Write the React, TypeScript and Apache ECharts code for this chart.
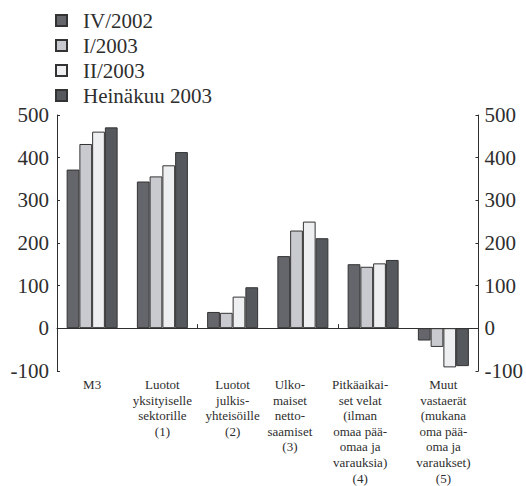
import React, { useEffect, useRef } from "react";
import * as echarts from "echarts";

// Categories (axis labels with their line breaks)
const categories = [
  "M3",
  "Luotot\nyksityiselle\nsektorille\n(1)",
  "Luotot\njulkis-\nyhteisöille\n(2)",
  "Ulko-\nmaiset\nnetto-\nsaamiset\n(3)",
  "Pitkäaikai-\nset velat\n(ilman\nomaa pää-\nomaa ja\nvarauksia)\n(4)",
  "Muut\nvastaerät\n(mukana\noma pää-\noma ja\nvaraukset)\n(5)",
];

// Series names and values
const seriesNames = ["IV/2002", "I/2003", "II/2003", "Heinäkuu 2003"];
const iv2002 = [372, 344, 38, 169, 150, -29];
const i2003 = [432, 356, 36, 229, 144, -44];
const ii2003 = [461, 382, 74, 250, 152, -92];
const heinakuu2003 = [471, 413, 96, 211, 160, -89];
const seriesValues = [iv2002, i2003, ii2003, heinakuu2003];
const seriesColors = ["#64666b", "#c9cacf", "#eeeff1", "#55585c"];

// Value axis ticks
const yMin = -100;
const yMax = 500;
const yStep = 100;

const FONT = "'Liberation Serif', 'Times New Roman', serif";
const INK = "#2e2e2e";
const CAT_LINE = 15.6;

export default function App() {
  const ref = useRef<HTMLDivElement>(null);

  useEffect(() => {
    if (!ref.current) return;
    const chart = echarts.init(ref.current, undefined, { renderer: "svg" });

    const valueAxis = (position: "left" | "right") => ({
      type: "value",
      position,
      min: yMin,
      max: yMax,
      interval: yStep,
      splitLine: { show: false },
      axisLine: { show: true, lineStyle: { color: INK, width: 1 } },
      axisTick: { show: true, inside: true, length: 3, lineStyle: { color: INK } },
      axisLabel: {
        color: INK,
        fontFamily: FONT,
        fontSize: 21,
        margin: position === "left" ? 8 : 6,
      },
    });

    chart.setOption({
      animation: false,
      backgroundColor: "#ffffff",
      textStyle: { fontFamily: FONT },
      legend: {
        orient: "vertical",
        left: 55,
        top: 10,
        padding: 0,
        itemWidth: 11,
        itemHeight: 11,
        itemGap: 4,
        icon: "rect",
        textStyle: {
          color: INK,
          fontFamily: FONT,
          fontSize: 21,
          lineHeight: 21,
          padding: [0, 0, 0, 11],
        },
        data: seriesNames,
      },
      grid: { left: 57, right: 45, top: 115, bottom: 115 },
      xAxis: [
        {
          type: "category",
          data: categories,
          axisLine: { show: true, onZero: true, lineStyle: { color: INK, width: 1 } },
          axisTick: { show: true, inside: true, length: 4, lineStyle: { color: INK } },
          axisLabel: { show: false },
        },
        {
          type: "category",
          position: "bottom",
          data: categories.map((c, i) => ({
            value: c,
            textStyle: {
              lineHeight: CAT_LINE,
              padding: i === 3 || i === 4 ? [0, 26, 0, 0] : 0,
            },
          })),
          axisLine: { show: false, onZero: false },
          axisTick: { show: false },
          axisLabel: {
            interval: 0,
            color: INK,
            fontFamily: FONT,
            fontSize: 13,
            lineHeight: CAT_LINE,
            margin: 6,
            align: "center",
          },
        },
      ],
      yAxis: [valueAxis("left"), valueAxis("right")],
      series: seriesNames.map((name, i) => ({
        name,
        type: "bar",
        xAxisIndex: 0,
        yAxisIndex: 0,
        data: seriesValues[i],
        barWidth: 12.75,
        barGap: "0%",
        itemStyle: {
          color: seriesColors[i],
          borderColor: "#333333",
          borderWidth: 1,
        },
      })),
    });

    return () => chart.dispose();
  }, []);

  return (
    <div
      ref={ref}
      style={{ position: "absolute", left: 0, top: 0, width: 526, height: 486 }}
    />
  );
}
